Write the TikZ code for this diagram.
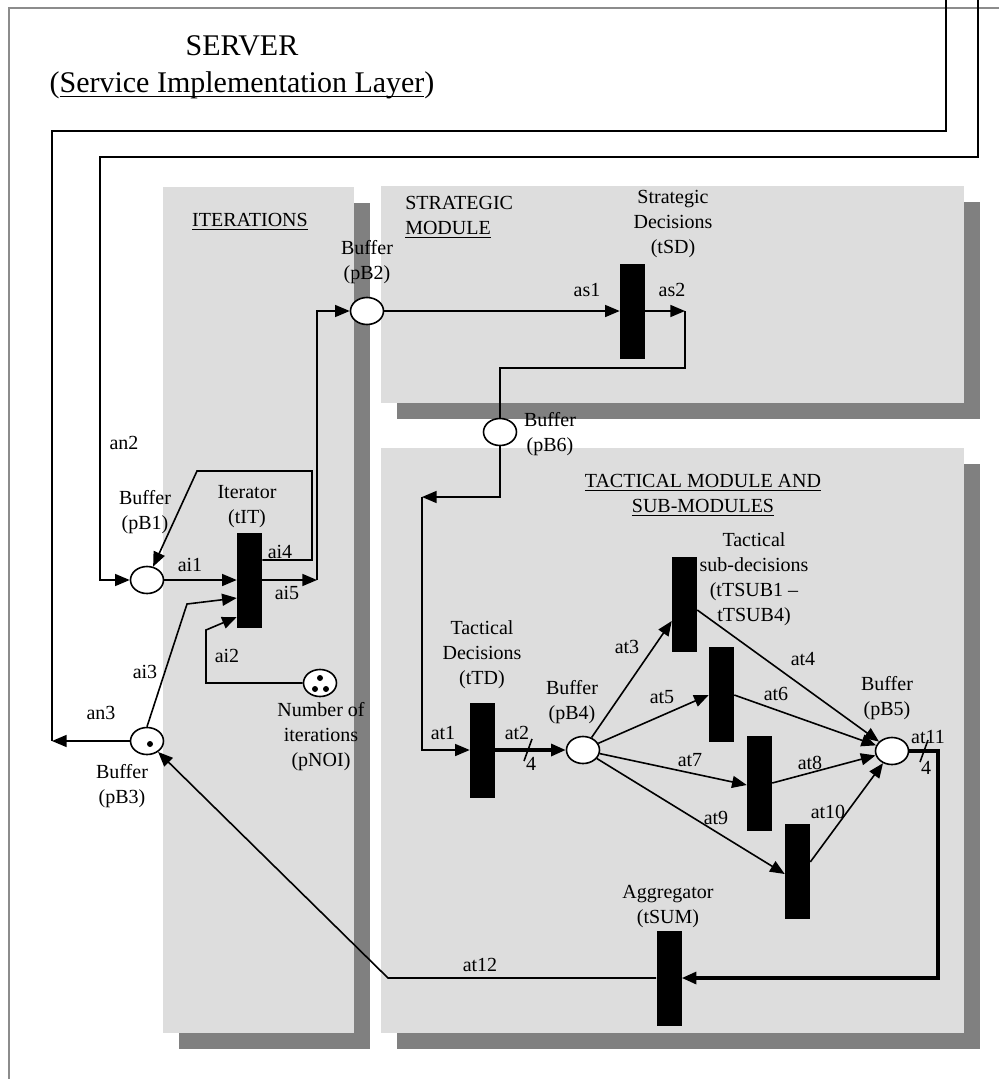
\documentclass[tikz,border=0pt]{standalone}
\usepackage{fontspec}
\setmainfont{Liberation Serif}
\usetikzlibrary{arrows.meta,shapes.geometric,calc}
\definecolor{panelgray}{HTML}{DDDDDD}
\definecolor{shadowgray}{HTML}{808080}
\definecolor{framegray}{HTML}{8C8C8C}
\newcommand{\ulx}[1]{\setbox0=\hbox{#1}\rlap{\rule[-2.6pt]{\wd0}{0.7pt}}\box0}
\newcommand{\ulbig}[1]{\setbox0=\hbox{#1}\rlap{\rule[-3.6pt]{\wd0}{0.9pt}}\box0}
\begin{document}
\begin{tikzpicture}[x=0.75pt,y=-0.75pt,
  lbl/.style={font=\fontsize{15}{18.75}\selectfont, inner sep=0pt, align=center},
  big/.style={font=\fontsize{22.5}{27}\selectfont, inner sep=0pt, anchor=base},
  place/.style={ellipse, draw, fill=white, line width=1.2pt, minimum width=24.75pt, minimum height=20.25pt, inner sep=0pt},
  trans/.style={rectangle, fill=black, minimum width=18.75pt, minimum height=71.25pt, inner sep=0pt},
  arc/.style={line width=1.2pt},
  arr/.style={arc, -{Triangle[length=11pt,width=9pt]}},
  harr/.style={line width=2.4pt, -{Triangle[length=11pt,width=9pt]}},
  tok/.style={circle, fill=black, minimum size=4.5pt, inner sep=0pt},
]
\useasboundingbox (0,0) rectangle (999,1079);
\fill[white] (0,0) rectangle (999,1079);
% outer frame
\draw[framegray, line width=1.5pt] (9,1085) -- (9,8) -- (1005,8);
% panels
\fill[shadowgray] (179,203) rectangle (370,1049);
\fill[panelgray] (163,187) rectangle (354,1033);
\fill[shadowgray] (397,202) rectangle (980,419);
\fill[panelgray] (381,186) rectangle (964,403);
\fill[shadowgray] (397,464) rectangle (980,1049);
\fill[panelgray] (381,448) rectangle (964,1033);

% title
\node[big] (Lsv) at (242,55) {SERVER};
\node[big] (Lsil) at (242,92) {(\ulbig{Service Implementation Layer})};

% places and transitions
\node[place] (pB1) at (147,580) {};
\node[trans] (tIT) at (249.5,580) {};
\node[place] (pB2) at (367,311) {};
\node[place] (pB3) at (147,741) {};
\node[place] (pNOI) at (320,683) {};
\node[trans] (tSD) at (632.5,311) {};
\node[place] (pB6) at (500,432) {};
\node[trans] (tTD) at (482.5,750) {};
\node[place] (pB4) at (583,750) {};
\node[trans] (tS1) at (684.5,604.5) {};
\node[trans] (tS2) at (721.5,694) {};
\node[trans] (tS3) at (759.5,783) {};
\node[trans] (tS4) at (797.5,871.5) {};
\node[place] (pB5) at (892,751) {};
\node[trans] (tSUM) at (669,978) {};

% tokens
\node[tok] (k1) at (150,744) {};
\node[tok] (n1) at (320,678) {};
\node[tok] (n2) at (315,689) {};
\node[tok] (n3) at (326,689) {};

% helper coordinates
\coordinate (in1) at (946,0);
\coordinate (in2) at (978,0);
\coordinate (c3) at (52,741);
\coordinate (k5) at (317,580);
\coordinate (k6) at (422,497);
\coordinate (s2) at (685,311);
\coordinate (e11) at (938,751);

% connectors
\draw[arc] (in1) |- (c3 |- 0,131) -- (c3);
\draw[arr] (pB3.west) -- (c3);
\draw[arr] (in2) |- (100,157) |- (pB1.west);
\draw[arr] (pB1.east) -- (tIT.west |- pB1.east);
\draw[arr] (tIT.east |- 0,560) -- (312,560) -- (312,471) -- (197,471) -- (pB1);
\draw[arr] (tIT.east) -- (k5);
\draw[arr] (k5) |- (pB2.west);
\draw[arr] (pB3.north) -- (187,604) -- (tIT.west |- 0,598);
\draw[arr] (pNOI.west) -- (206,683) -- (206,630) -- (tIT.west |- 0,617);
\draw[arr] (pB2.east) -- (tSD.west |- pB2.east);
\draw[arr] (tSD.east) -- (s2);
\draw[arc] (s2) |- (pB6.north |- 0,368) -- (pB6.north);
\draw[arr] (pB6.south) |- (k6);
\draw[arr] (k6) |- (tTD.west);
\draw[harr] (tTD.east) -- (pB4.west);
\draw[arr] (pB4) -- (tS1.west |- 0,621);
\draw[arr] (pB4) -- (tS2.west |- 0,695);
\draw[arr] (pB4) -- (tS3.west |- 0,785);
\draw[arr] (pB4) -- (tS4.west |- 0,874);
\draw[arr] (tS1.east |- 0,610) -- (pB5);
\draw[arr] (tS2.east |- 0,695) -- (pB5);
\draw[arr] (tS3.east |- 0,783) -- (pB5);
\draw[arr] (tS4.east |- 0,862) -- (pB5);
\draw[harr] (pB5.east) -- (e11) |- (tSUM.east);
\draw[arr] (tSUM.west) -- (388,978) -- (pB3);
% multiplicity slashes
\draw[arc] (524,761) -- (532,739);
\draw[arc] (920,762) -- (928,740);

% labels
\node[lbl] (LpB1) at (145,512.5) {Buffer\\(pB1)};
\node[lbl] (LtIT) at (247,506.5) {Iterator\\(tIT)};
\node[lbl] (LpB2) at (367,262) {Buffer\\(pB2)};
\node[lbl] (LpNOI) at (321,737) {Number of\\iterations\\(pNOI)};
\node[lbl] (LpB3) at (122,786.5) {Buffer\\(pB3)};
\node[lbl] (LtSD) at (673,224) {Strategic\\Decisions\\(tSD)};
\node[lbl, align=left, anchor=west] (Lstrat) at (405,217.5) {STRATEGIC\\\ulx{MODULE}};
\node[lbl] (Liter) at (250,222) {\ulx{ITERATIONS}};
\node[lbl] (LpB6) at (550,434.5) {Buffer\\(pB6)};
\node[lbl] (Ltac) at (703,495) {\ulx{TACTICAL MODULE AND}\\\ulx{SUB-MODULES}};
\node[lbl] (LtTD) at (482,655) {Tactical\\Decisions\\(tTD)};
\node[lbl] (LpB4) at (572,702.5) {Buffer\\(pB4)};
\node[lbl] (LtTSUB) at (754,579.5) {Tactical\\sub-decisions\\(tTSUB1 –\\tTSUB4)};
\node[lbl] (LpB5) at (887,698.5) {Buffer\\(pB5)};
\node[lbl] (LtSUM) at (668,906.5) {Aggregator\\(tSUM)};

% arc labels
\node[lbl] (an2) at (124,443) {an2};
\node[lbl] (an3) at (101,713) {an3};
\node[lbl] (ai1) at (190,565) {ai1};
\node[lbl] (ai4) at (280,552) {ai4};
\node[lbl] (ai5) at (287,593) {ai5};
\node[lbl] (ai3) at (145,672) {ai3};
\node[lbl] (ai2) at (227,656) {ai2};
\node[lbl] (as1) at (587,290) {as1};
\node[lbl] (as2) at (672,290) {as2};
\node[lbl] (at1) at (443,733) {at1};
\node[lbl] (at2) at (517,733) {at2};
\node[lbl] (m2) at (531,764) {4};
\node[lbl] (at3) at (627,647) {at3};
\node[lbl] (at5) at (662,697) {at5};
\node[lbl] (at7) at (690,760) {at7};
\node[lbl] (at9) at (716,818) {at9};
\node[lbl] (at4) at (803,659) {at4};
\node[lbl] (at6) at (776,694) {at6};
\node[lbl] (at8) at (810,763) {at8};
\node[lbl] (at10) at (828,812) {at10};
\node[lbl] (at11) at (928,737) {at11};
\node[lbl] (m11) at (926,768) {4};
\node[lbl] (at12) at (480,965) {at12};
\end{tikzpicture}
\end{document}
